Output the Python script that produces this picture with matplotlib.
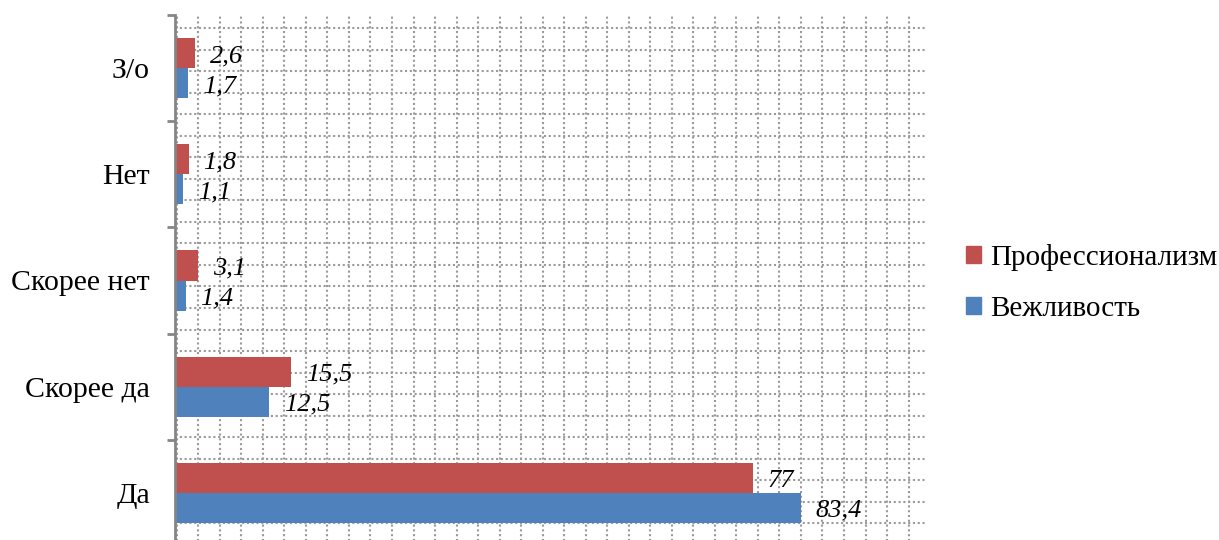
import numpy as np
import matplotlib
matplotlib.use("Agg")
import matplotlib.pyplot as plt
from matplotlib.patches import Patch

plt.rcParams["font.family"] = ["Liberation Serif", "DejaVu Serif"]

# Данные (снизу вверх)
categories = ["Да", "Скорее да", "Скорее нет", "Нет", "З/о"]
professionalism = [77, 15.5, 3.1, 1.8, 2.6]
politeness = [83.4, 12.5, 1.4, 1.1, 1.7]
series_names = ["Профессионализм", "Вежливость"]

red = "#C0504D"
blue = "#4F81BD"

fig = plt.figure(figsize=(12.19, 5.40), dpi=100)
ax = fig.add_axes([175 / 1219, -6 / 540, 750 / 1219, 531 / 540])

y = np.arange(len(categories))
h = 0.2825
ax.barh(y + h / 2, professionalism, height=h, color=red, zorder=3)
ax.barh(y - h / 2, politeness, height=h, color=blue, zorder=3)

ax.set_xlim(0, 100)
ax.set_ylim(-0.5, 4.5)

# пунктирная сетка фона
grid_kw = dict(color="#9A9A9A", lw=1.5, ls=(0, (1, 1.3)), zorder=1)
for gx in np.arange(0.23, 100, 2.87):
    ax.axvline(gx, **grid_kw)
for gy in np.arange(4.375, -0.5, -0.2026):
    ax.axhline(gy, **grid_kw)

# подписи значений
def fmt(v):
    return f"{v:g}".replace(".", ",")

for yi, v in zip(y, professionalism):
    ax.annotate(fmt(v), (v, yi + h / 2), xytext=(15, -3), textcoords="offset pixels",
                va="center", ha="left", fontsize=19, style="italic", zorder=4)
for yi, v in zip(y, politeness):
    ax.annotate(fmt(v), (v, yi - h / 2), xytext=(15, -3), textcoords="offset pixels",
                va="center", ha="left", fontsize=19, style="italic", zorder=4)

# оси
for s in ["top", "right", "bottom"]:
    ax.spines[s].set_visible(False)
ax.spines["left"].set_color("#868686")
ax.spines["left"].set_linewidth(2)
ax.spines["left"].set_zorder(5)
ax.set_xticks([])
ax.set_yticks(np.arange(-0.5, 5, 1))
ax.set_yticklabels([])
ax.tick_params(axis="y", which="major", length=6, width=2, color="#868686")
ax.set_yticks(y, minor=True)
ax.set_yticklabels(categories, minor=True, fontsize=21.5)
ax.tick_params(axis="y", which="minor", length=0, pad=18)

handles = [Patch(color=red), Patch(color=blue)]
fig.legend(handles, series_names, loc="center left", bbox_to_anchor=(966 / 1219, 1 - 283 / 540),
           frameon=False, fontsize=21, handlelength=0.52, handleheight=0.52,
           handletextpad=0.3, labelspacing=0.86, borderpad=0, borderaxespad=0)

fig.savefig("out.png", dpi=100)
